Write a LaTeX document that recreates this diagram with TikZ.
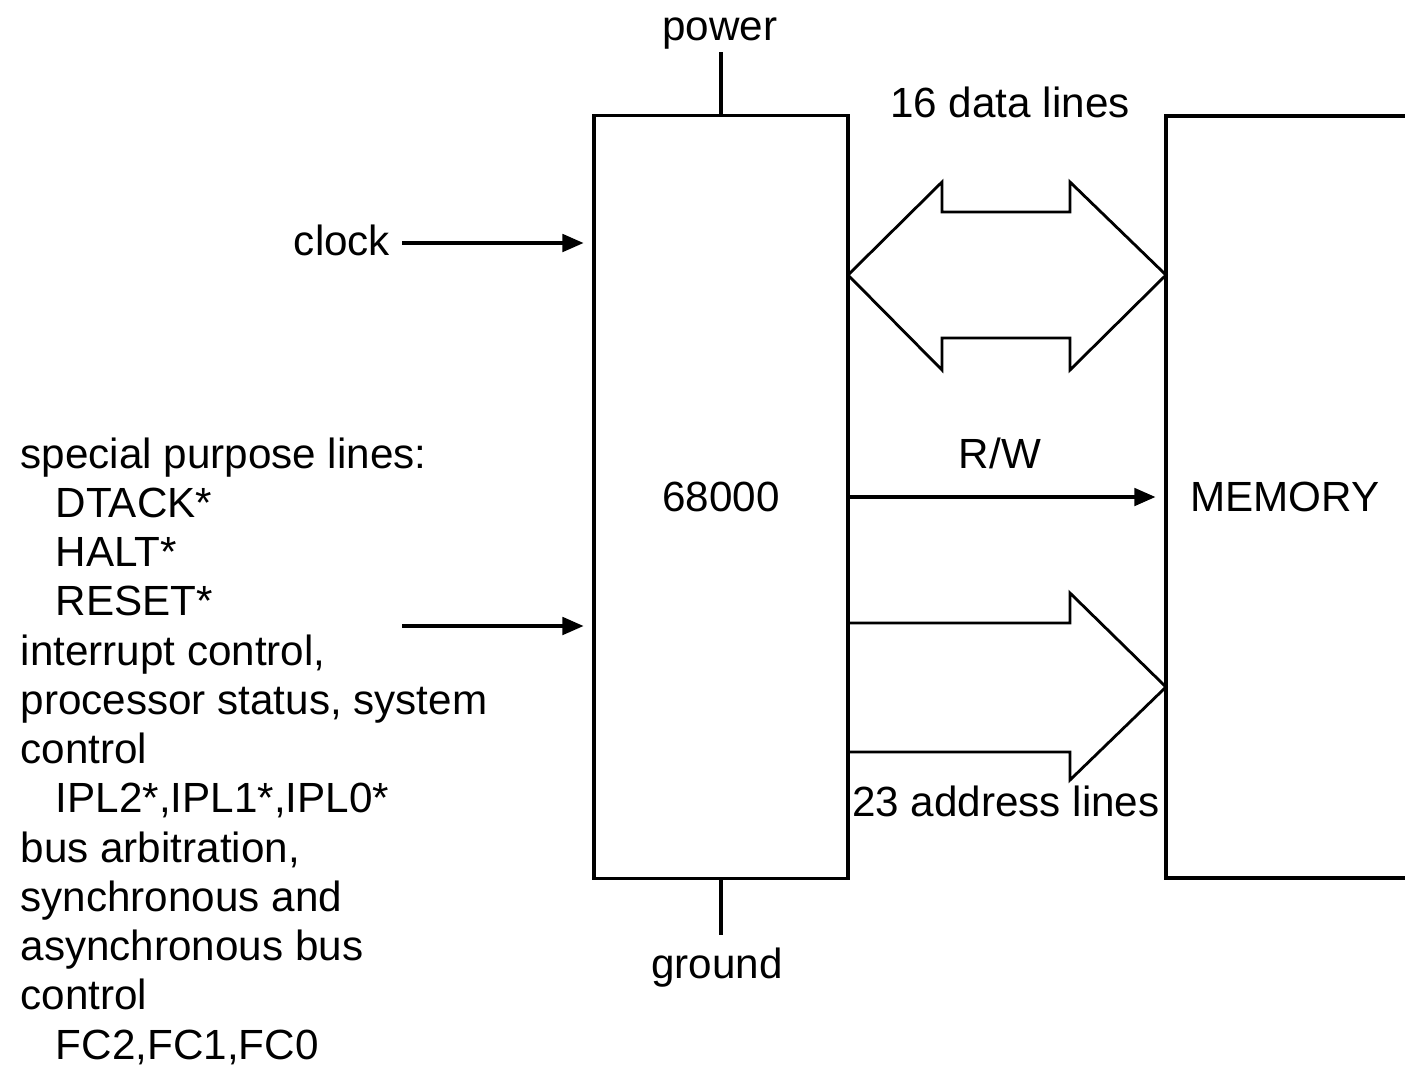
\documentclass[tikz,border=0pt]{standalone}
\usepackage{fontspec}
\setmainfont{Liberation Sans}
\usetikzlibrary{arrows.meta,positioning}
\tikzset{sig/.style={-{Triangle[length=6pt,width=5pt]},line width=.9pt,shorten >=2.5pt},wire/.style={line width=.9pt},bus/.style={line width=.8pt,line join=miter},lbl/.style={font=\fontsize{12}{14}\selectfont,inner sep=0pt},chip/.style={draw,line width=.9pt,minimum width=2.54cm,minimum height=7.62cm,font=\fontsize{12}{14}\selectfont}}

\begin{document}
\begin{tikzpicture}[x=.01cm,y=-.01cm]
\useasboundingbox (0,0) rectangle (1405,1066);
% processor and memory
\node[chip] (cpu) at (721,497) {68000};
\node[lbl] (mem) at (1285,497) {MEMORY};
\coordinate (memNE) at (1410,116);
\coordinate (memNW) at (1166,116);
\coordinate (memSW) at (1166,878);
\coordinate (memSE) at (1410,878);
\draw[wire] (memNE) -- (memNW) -- (memSW) -- (memSE);
% power and ground
\node[lbl,anchor=base] (power) at (720,40) {power};
\coordinate (pwr) at (721,52);
\draw[wire] (cpu.north) -- (pwr);
\node[lbl,anchor=base] (ground) at (717,978) {ground};
\coordinate (gnd) at (721,935);
\draw[wire] (cpu.south) -- (gnd);
% inputs on the left
\node[lbl,anchor=base] (clock) at (342,255) {clock};
\coordinate (clk) at (402,243);
\draw[sig] (clk) -- (clk -| cpu.west);
\node[lbl,anchor=north west,align=left] (special) at (20,437) {special purpose lines:\\
\hspace*{10pt}DTACK*\\
\hspace*{10pt}HALT*\\
\hspace*{10pt}RESET*\\
interrupt control,\\
processor status, system\\
control\\
\hspace*{10pt}IPL2*,IPL1*,IPL0*\\
bus arbitration,\\
synchronous and\\
asynchronous bus\\
control\\
\hspace*{10pt}FC2,FC1,FC0};
\coordinate (spl) at (402,626);
\draw[sig] (spl) -- (spl -| cpu.west);
% buses to memory
\node[lbl,anchor=base] (data) at (1010,117) {16 data lines};
\draw[bus] (848,275) -- (942,182) -- (942,212) -- (1070,212) -- (1070,182) -- (1166,275)
  -- (1070,370) -- (1070,338) -- (942,338) -- (942,370) -- cycle;
\node[lbl,anchor=base] (rw) at (1000,468) {R/W};
\draw[sig,shorten >=3pt] (cpu.east) -- (cpu.east -| memNW);
\draw[bus] (848,623) -- (1070,623) -- (1070,593) -- (1166,687) -- (1070,780) -- (1070,752) -- (848,752);
\node[lbl,anchor=base] (addr) at (1006,816) {23 address lines};
\end{tikzpicture}
\end{document}
